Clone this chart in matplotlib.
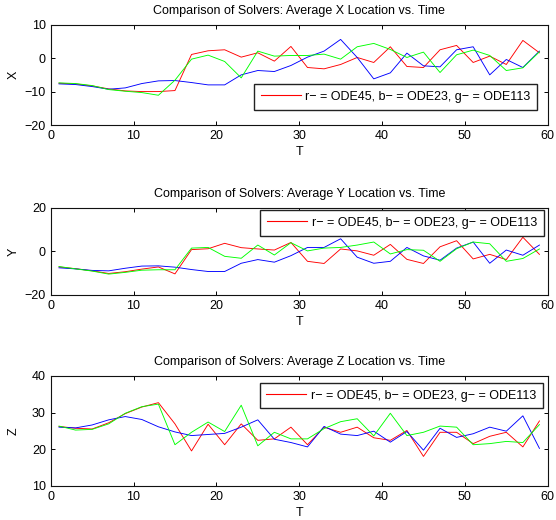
import numpy as np
import matplotlib
matplotlib.use('Agg')
import matplotlib.pyplot as plt
from matplotlib.lines import Line2D

plt.rcParams['font.family'] = ['Liberation Sans', 'DejaVu Sans']
plt.rcParams['font.size'] = 9

t = np.arange(1, 60, 2)

# average X location for each solver
x_ode45 = [-7.5, -7.7, -8.3, -9.2, -9.8, -10.0, -10.0, -9.7, 1.1, 2.2, 2.5, 0.3, 1.6, -0.9, 3.5,
           -2.8, -3.2, -1.9, 0.2, -1.3, 3.4, -2.5, -2.8, 2.5, 3.8, -1.3, 0.6, -1.9, 5.3, 1.6]
x_ode23 = [-7.7, -7.9, -8.5, -9.3, -8.9, -7.6, -6.8, -6.7, -7.3, -8.0, -8.0, -5.0, -3.7, -4.0, -2.2,
           0.3, 2.1, 5.6, 0.2, -6.2, -4.4, 1.5, -2.3, -2.6, 2.5, 3.4, -5.0, -0.4, -2.8, 2.1]
x_ode113 = [-7.4, -7.6, -8.2, -9.4, -9.9, -10.3, -11.1, -6.6, -0.3, 0.9, -1.0, -5.9, 2.1, 0.6, 0.8,
            0.8, 1.2, -0.3, 3.4, 4.4, 2.6, 0.2, 1.8, -4.3, 1.0, 2.4, 0.8, -3.7, -2.9, 1.9]

# average Y location
y_ode45 = [-7.2, -8.0, -9.0, -10.2, -9.4, -8.2, -7.2, -10.4, 0.8, 1.2, 3.7, 1.7, 1.1, 0.6, 4.1,
           -4.6, -5.6, 1.1, 0.2, -1.8, 3.2, -3.7, -5.6, 2.1, 4.9, -3.5, -1.4, -3.8, 6.5, -1.4]
y_ode23 = [-7.6, -8.1, -8.8, -9.0, -7.8, -6.8, -6.7, -7.3, -8.4, -9.3, -9.3, -5.5, -3.8, -5.0, -2.0,
           1.8, 1.8, 5.8, -2.7, -5.5, -4.6, 1.8, -2.1, -4.1, 1.5, 4.3, -5.5, 0.6, -1.8, 2.9]
y_ode113 = [-7.0, -8.1, -9.1, -10.5, -9.7, -8.7, -8.5, -8.5, 1.5, 1.8, -2.3, -3.2, 2.9, -1.7, 4.0,
            0.2, 1.5, 1.8, 2.9, 4.3, -1.2, 0.8, 0.5, -4.6, 1.2, 4.3, 3.5, -4.6, -3.3, 1.1]

# average Z location
z_ode45 = [26.2, 25.7, 25.5, 27.2, 29.7, 31.5, 32.7, 26.9, 19.5, 26.8, 21.2, 26.9, 22.4, 22.8, 26.0,
           21.2, 26.0, 24.6, 26.0, 23.1, 22.4, 25.1, 18.0, 24.6, 24.6, 21.5, 23.5, 24.6, 20.6, 27.7]
z_ode23 = [26.0, 25.8, 26.6, 28.0, 28.9, 28.1, 26.1, 24.7, 23.7, 24.0, 24.3, 26.0, 28.0, 22.7, 21.8,
           20.6, 26.2, 24.1, 23.7, 24.9, 21.9, 24.8, 19.7, 25.7, 23.2, 24.2, 26.0, 24.9, 29.1, 20.2]
z_ode113 = [26.3, 25.2, 25.4, 26.9, 29.8, 31.6, 32.3, 21.2, 24.6, 27.4, 24.8, 32.0, 20.9, 24.6, 22.8,
            22.8, 25.6, 27.5, 28.3, 23.6, 29.8, 23.7, 24.6, 26.3, 26.0, 21.2, 21.5, 22.1, 21.8, 26.7]

panels = [
    ('X', x_ode45, x_ode23, x_ode113, (-20, 10), [-20, -10, 0, 10]),
    ('Y', y_ode45, y_ode23, y_ode113, (-20, 20), [-20, 0, 20]),
    ('Z', z_ode45, z_ode23, z_ode113, (10, 40), [10, 20, 30, 40]),
]
legend_text = 'r\u2212 = ODE45, b\u2212 = ODE23, g\u2212 = ODE113'

# axes rectangles and legend anchors (axes fraction)
rects = [[0.0912, 0.7596, 0.8939, 0.1929],
         [0.0912, 0.4333, 0.8939, 0.1667],
         [0.0912, 0.0660, 0.8939, 0.2110]]
leg_locs = [('lower right', (0.979, 0.153)),
            ('upper right', (0.992, 0.977)),
            ('upper right', (0.991, 0.939))]

fig = plt.figure(figsize=(5.56, 5.2), dpi=100)

for (name, r, b, g, ylim, yticks), rect, (loc, anchor) in zip(panels, rects, leg_locs):
    ax = fig.add_axes(rect)
    ax.plot(t, r, color='#ff0000', lw=0.65)
    ax.plot(t, b, color='#0000ff', lw=0.65)
    ax.plot(t, g, color='#00ff00', lw=0.65)
    ax.set_xlim(0, 60)
    ax.set_ylim(*ylim)
    ax.set_xticks(range(0, 61, 10))
    ax.set_yticks(yticks)
    ax.set_yticklabels([str(v).replace('-', '\u2212') for v in yticks])
    ax.tick_params(direction='in', top=True, right=True, length=3, width=0.7, labelsize=9)
    for s in ax.spines.values():
        s.set_linewidth(0.8)
        s.set_color('#111111')
    ax.set_title('Comparison of Solvers: Average %s Location vs. Time' % name, fontsize=9, pad=8)
    ax.set_xlabel('T', fontsize=9, labelpad=3)
    ax.set_ylabel(name, fontsize=9)
    ax.yaxis.set_label_coords(-0.062, 0.5)
    h = Line2D([], [], color='#ff0000', lw=0.8)
    leg = ax.legend([h], [legend_text], loc=loc, bbox_to_anchor=anchor, fontsize=9,
                    fancybox=False, framealpha=1, edgecolor='#222222', handlelength=3.2,
                    handletextpad=0.37, borderpad=0.55, borderaxespad=0)
    leg.get_frame().set_linewidth(1.0)

fig.savefig('out.png', dpi=100)
